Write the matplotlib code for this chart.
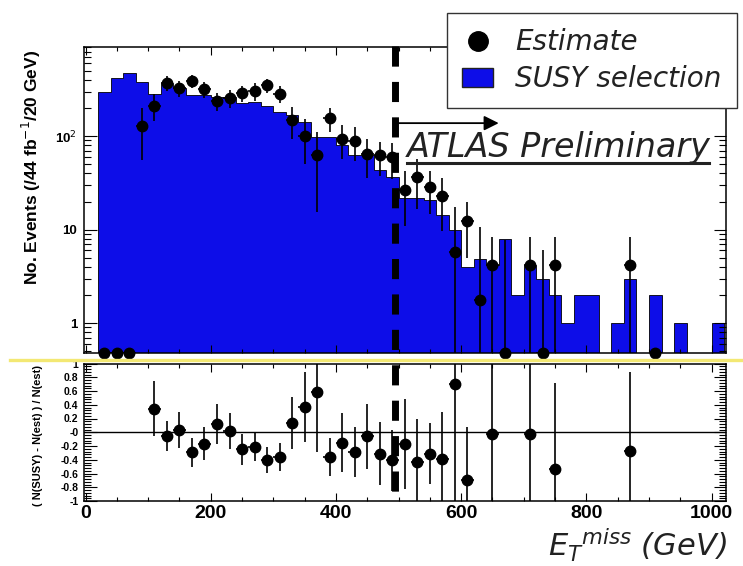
import numpy as np
import matplotlib
matplotlib.use("Agg")
import matplotlib.pyplot as plt
from matplotlib.lines import Line2D
from matplotlib.patches import Patch
from matplotlib.ticker import MultipleLocator, LogLocator, NullFormatter
from matplotlib.transforms import blended_transform_factory

# ------------------------------------------------------------------
# Datos
# ------------------------------------------------------------------
bin_start = 20
bin_width = 20

# SUSY selection, eventos por bin de 20 GeV (20-40 ... 1000-1020)
susy_counts = [298, 421, 475, 381, 286, 371, 330, 275, 275, 262,
               262, 224, 233, 210, 182, 168, 142, 98, 98, 80,
               63, 63, 43, 37, 22, 22, 21, 14.5, 10, 4.0,
               4.9, 4.2, 8.0, 2.0, 4.2, 3.0, 2.0, 1.0, 2.0, 2.0,
               0, 1.0, 3.0, 0, 2.0, 0, 1.0, 0, 0, 1.0]

# Estimate (puntos)
est_x = [30, 50, 70, 90, 110, 130, 150, 170, 190, 210, 230, 250, 270, 290,
         310, 330, 350, 370, 390, 410, 430, 450, 470, 490, 510, 530, 550,
         570, 590, 610, 630, 650, 670, 710, 730, 750, 870, 910]
est_y = [0, 0, 0, 128, 213, 375, 324, 391, 318, 237, 257, 290, 305, 351,
         286, 148, 101, 62.6, 155, 94.5, 89, 65, 62.6, 60, 26.9, 36.7, 28.7,
         22.8, 5.8, 12.4, 1.76, 4.17, 0, 4.17, 0, 4.17, 4.17, 0]
est_err = [0, 0, 0, 72, 67, 70, 64, 65, 60, 50, 55, 55, 65, 60,
           60, 55, 50, 47, 45, 37, 35, 29, 25, 25, 16, 20, 14,
           13, 11.7, 7.4, 9, 4.2, 7.7, 4.2, 6.0, 4.2, 4.2, 0]

# (N(SUSY) - N(est)) / N(est)
ratio_x = [110, 130, 150, 170, 190, 210, 230, 250, 270, 290, 310, 330, 350,
           370, 390, 410, 430, 450, 470, 490, 510, 530, 550, 570, 590, 610,
           650, 710, 750, 870]
ratio_y = [0.34, -0.05, 0.03, -0.29, -0.17, 0.12, 0.02, -0.25, -0.21, -0.40,
           -0.36, 0.13, 0.37, 0.59, -0.36, -0.15, -0.29, -0.06, -0.31, -0.41,
           -0.17, -0.43, -0.31, -0.39, 0.70, -0.69, -0.03, -0.03, -0.53, -0.27]
ratio_err = [0.40, 0.22, 0.26, 0.21, 0.24, 0.29, 0.26, 0.22, 0.21, 0.19,
             0.21, 0.38, 0.51, 0.87, 0.28, 0.43, 0.36, 0.47, 0.46, 0.45,
             0.65, 0.63, 0.44, 0.68, 1.8, 0.77, 1.5, 1.5, 1.25, 1.14]

met_cut = 494
arrow_end = 660
arrow_y = 138

count_ticks = [1, 10, 100]
count_ticklabels = ['1', '10', '10$^{2}$']
ratio_ticks = [-1, -0.8, -0.6, -0.4, -0.2, 0, 0.2, 0.4, 0.6, 0.8, 1]
ratio_ticklabels = ['-1', '-0.8', '-0.6', '-0.4', '-0.2', '-0', '0.2', '0.4',
                    '0.6', '0.8', '1']
met_ticks = [0, 200, 400, 600, 800, 1000]
met_ticklabels = ['0', '200', '400', '600', '800', '1000']

# ------------------------------------------------------------------
W, H = 743, 566
azul = '#0d0de8'
tick_font = dict(family='Liberation Sans', weight='bold')

fig = plt.figure(figsize=(W / 100, H / 100), dpi=100)
ax_top = fig.add_axes([84 / W, 1 - 353 / H, 642 / W, 306 / H])
ax_low = fig.add_axes([84 / W, 1 - 501 / H, 642 / W, 137.5 / H])

xlim = (-2.4, 1023)
ylim_top = (0.48, 900)

# ---- panel superior ----
edges = bin_start + bin_width * np.arange(len(susy_counts) + 1)
counts = np.array(susy_counts, dtype=float)
counts_plot = np.where(counts > 0, counts, 1e-3)
ax_top.stairs(counts_plot, edges, fill=True, facecolor=azul, edgecolor='black',
              linewidth=0.6, baseline=1e-3)

ex = np.array(est_x, dtype=float)
ey = np.array(est_y, dtype=float)
ee = np.array(est_err, dtype=float)
ey_plot = np.where(ey > 0, ey, ylim_top[0])
err_lo = np.where(ey > 0, ee, 0)
err_hi = np.where(ey > 0, ee, (ee + ey - ylim_top[0]).clip(0))
ax_top.errorbar(ex, ey_plot, yerr=[err_lo, err_hi], xerr=bin_width / 2,
                fmt='none', ecolor='black', elinewidth=1.2, capsize=0)
ax_top.plot(ex, ey_plot, 'o', color='black', markersize=7.5, clip_on=False, zorder=4)

ax_top.set_yscale('log')
ax_top.set_xlim(*xlim)
ax_top.set_ylim(*ylim_top)
ax_top.set_yticks(count_ticks)
ax_top.set_yticklabels(count_ticklabels, fontsize=9.5, **tick_font)
ax_top.yaxis.set_minor_locator(LogLocator(base=10, subs=np.arange(2, 10)))
ax_top.yaxis.set_minor_formatter(NullFormatter())
ax_top.xaxis.set_major_locator(MultipleLocator(200))
ax_top.xaxis.set_minor_locator(MultipleLocator(50))
ax_top.tick_params(which='both', direction='in', top=True, right=True,
                   labelbottom=False, width=0.8)
ax_top.tick_params(axis='y', which='major', length=9, pad=5)
ax_top.tick_params(axis='y', which='minor', length=5)
ax_top.tick_params(axis='x', which='major', length=6)
ax_top.tick_params(axis='x', which='minor', length=3)
ax_top.set_ylabel('No. Events (/44 fb$^{-1}$/20 GeV)', loc='top', fontsize=12.5,
                  **tick_font)
ax_top.yaxis.set_label_coords(-0.064, 0.99)

# flecha del corte y texto ATLAS
ax_top.annotate('', xy=(arrow_end, arrow_y), xytext=(met_cut, arrow_y),
                arrowprops=dict(arrowstyle='-|>', color='black', lw=1.3,
                                mutation_scale=22, shrinkA=0, shrinkB=0))
ax_top.text(0.503, 0.641, 'ATLAS Preliminary', transform=ax_top.transAxes,
            fontsize=24, family='DejaVu Sans', style='italic', color='#222222',
            va='baseline', ha='left', zorder=6)
ax_top.add_line(Line2D([0.503, 0.9735], [0.621, 0.621], transform=ax_top.transAxes,
                       color='#222222', lw=2.2, clip_on=False, zorder=6))

# ---- panel inferior ----
ax_low.axhline(0, color='black', lw=1)
ax_low.errorbar(ratio_x, ratio_y, yerr=ratio_err, xerr=bin_width / 2, fmt='o',
                color='black', markersize=7.5, elinewidth=1.2, capsize=0)
ax_low.set_xlim(*xlim)
ax_low.set_ylim(-1, 1)
ax_low.set_yticks(ratio_ticks)
ax_low.set_yticklabels(ratio_ticklabels, fontsize=7.5, **tick_font)
ax_low.yaxis.set_minor_locator(MultipleLocator(0.04))
ax_low.set_xticks(met_ticks)
ax_low.set_xticklabels(met_ticklabels, fontsize=14, **tick_font)
ax_low.xaxis.set_minor_locator(MultipleLocator(50))
ax_low.tick_params(which='both', direction='in', top=True, right=True, width=0.8)
ax_low.tick_params(axis='y', which='major', length=9, pad=4)
ax_low.tick_params(axis='y', which='minor', length=5)
ax_low.tick_params(axis='x', which='major', length=6, pad=3)
ax_low.tick_params(axis='x', which='minor', length=3)
ax_low.set_ylabel('( N(SUSY) - N(est) ) / N(est)', fontsize=8, **tick_font)
ax_low.yaxis.set_label_coords(-0.064, 0.48)
ax_low.set_xlabel(r'$E_{T}{}^{miss}$ (GeV)', loc='right', fontsize=22,
                  family='DejaVu Sans', style='italic', color='#222222')
ax_low.xaxis.set_label_coords(1.002, -0.19)

for ax in (ax_top, ax_low):
    for s in ax.spines.values():
        s.set_linewidth(1.1)

# linea de corte que cruza ambos paneles
trans = blended_transform_factory(ax_top.transData, fig.transFigure)
fig.add_artist(Line2D([met_cut, met_cut], [1 - 46 / H, 1 - 503 / H], transform=trans,
                      color='black', lw=5, dashes=(2.9, 2.2), zorder=3))

# linea amarilla entre paneles
fig.add_artist(Line2D([10 / W, 1], [1 - 360 / H, 1 - 360 / H], color='#f3e873',
                      lw=2.4, zorder=2))

# leyenda
handles = [Line2D([], [], marker='o', color='black', ls='none', markersize=14),
           Patch(facecolor=azul, edgecolor='#222222')]
fig.legend(handles, ['Estimate', 'SUSY selection'], loc='upper left',
           bbox_to_anchor=(447 / W, 1 - 13 / H), bbox_transform=fig.transFigure,
           borderaxespad=0, prop=dict(family='DejaVu Sans', style='italic', size=20),
           labelcolor='#222222', frameon=True, fancybox=False, edgecolor='#333333',
           framealpha=1, borderpad=0.55, labelspacing=0.32, handlelength=1.1,
           handletextpad=0.8)

fig.savefig('out.png', dpi=100, facecolor='white')
